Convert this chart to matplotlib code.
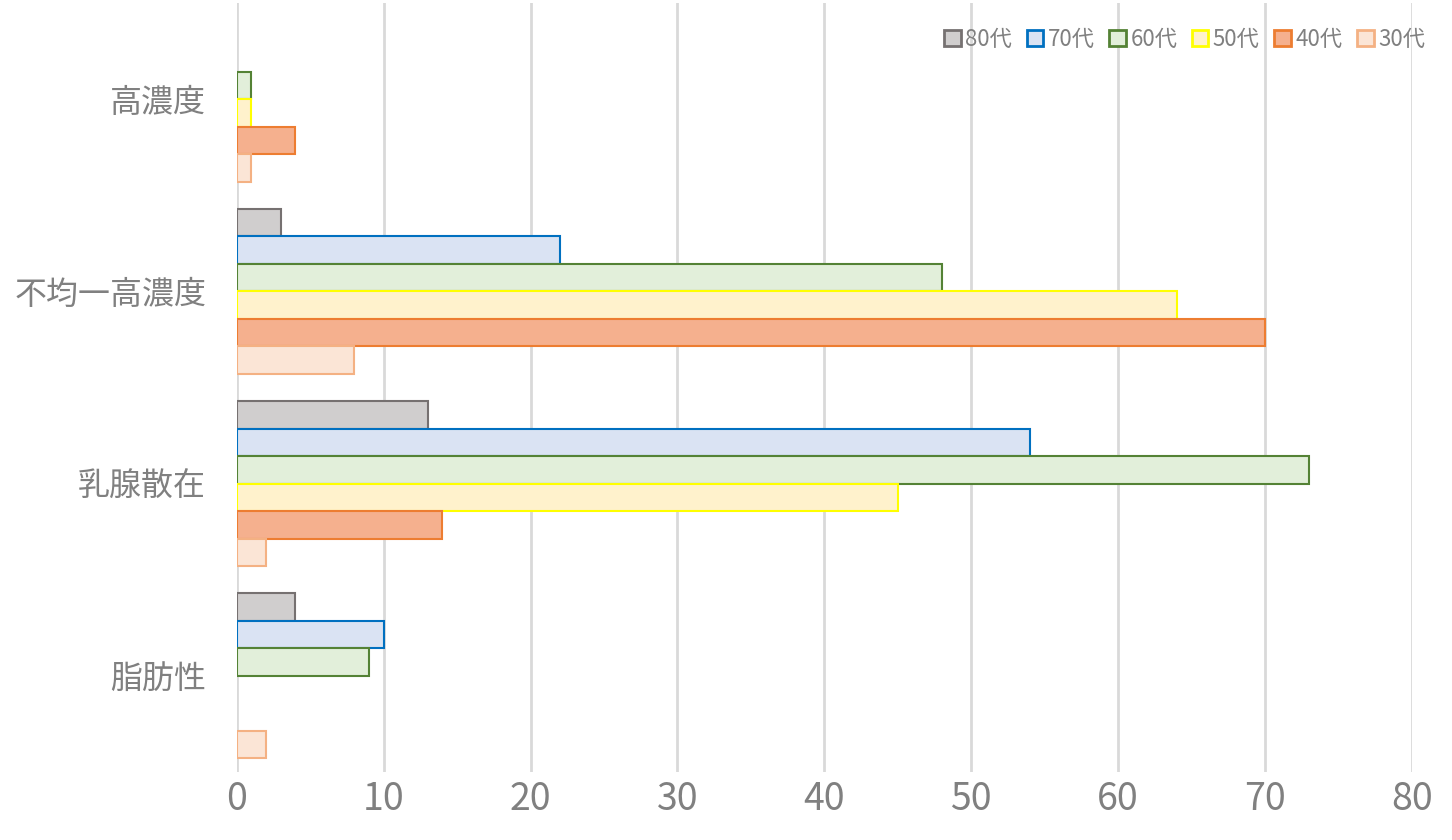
import numpy as np
import matplotlib.pyplot as plt
from matplotlib.patches import Patch

plt.rcParams['font.family'] = ['Noto Sans CJK JP', 'DejaVu Sans']

# Datos
categorias = ['脂肪性', '乳腺散在', '不均一高濃度', '高濃度']
series = ['80代', '70代', '60代', '50代', '40代', '30代']
v80 = [4, 13, 3, 0]
v70 = [10, 54, 22, 0]
v60 = [9, 73, 48, 1]
v50 = [0, 45, 64, 1]
v40 = [0, 14, 70, 4]
v30 = [2, 2, 8, 1]
valores = [v80, v70, v60, v50, v40, v30]

rellenos = ['#D0CECE', '#DAE3F3', '#E2EFDA', '#FFF2CC', '#F5B08E', '#FBE5D6']
bordes = ['#767171', '#0070C0', '#548235', '#FFFF00', '#ED7D31', '#F4B183']

gris = '#808080'

fig = plt.figure(figsize=(14.52, 8.4), dpi=100)
ax = fig.add_axes([0.163, 0.081, 0.8095, 0.9155])

y = np.arange(len(categorias))
h = 0.143
for i, (vals, fc, ec) in enumerate(zip(valores, rellenos, bordes)):
    offset = (2.5 - i) * h
    vals = np.array(vals, dtype=float)
    lw = np.where(vals > 0, 1.5, 0)  # sin borde para los ceros
    ax.barh(y + offset, vals, height=h, color=fc, edgecolor=ec, linewidth=lw, zorder=3)

ax.set_xlim(0, 80)
ax.set_ylim(-0.5, 3.5)
ax.set_xticks(np.arange(0, 81, 10))
ax.set_yticks(y)
ax.set_yticklabels(categorias)
ax.tick_params(axis='x', length=0, labelsize=27, labelcolor=gris, pad=6)
ax.tick_params(axis='y', length=0, labelsize=23, labelcolor=gris, pad=22)
ax.grid(axis='x', color='#D9D9D9', linewidth=2, zorder=0)
for s in ax.spines.values():
    s.set_visible(False)

handles = [Patch(facecolor=fc, edgecolor=ec, linewidth=2) for fc, ec in zip(rellenos, bordes)]
ax.legend(handles, series, loc='upper right', bbox_to_anchor=(1.028, 0.994), ncol=6, frameon=False,
          fontsize=16, labelcolor=gris, handlelength=0.75, handleheight=0.75,
          handletextpad=0.2, columnspacing=0.65)

plt.savefig('out.png')
